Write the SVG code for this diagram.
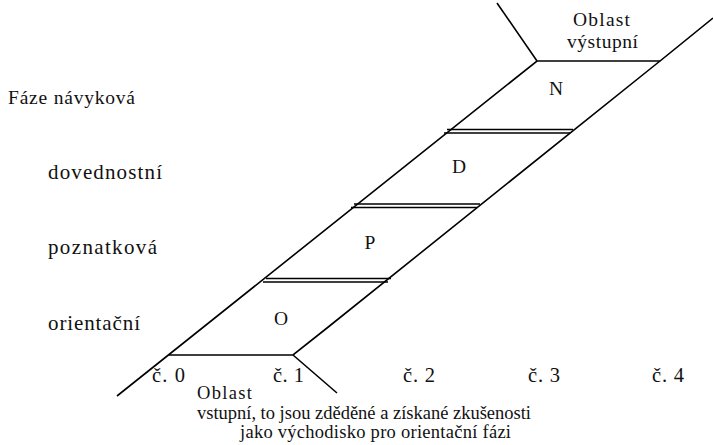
<svg xmlns="http://www.w3.org/2000/svg" width="713" height="445" viewBox="0 0 713 445">
<style>
text{font-family:"Liberation Serif","Times New Roman",serif;font-size:19.5px;fill:#111}
.sm{font-size:18.5px}
.lg{font-size:21px}
.ax{font-size:20.5px}
.ln{stroke:#000;stroke-width:1.6;fill:none}
.db{stroke:#000;stroke-width:1.4;fill:none}
</style>
<rect width="713" height="445" fill="#fff"/>
<g id="connectors">
<path class="ln" d="M117,396 L537,61 L660,61 L713,18"/>
<path class="ln" d="M497,3 L537,61"/>
<path class="ln" d="M169,355 L293,355 L327,328 L660,61"/>
<path class="ln" d="M293,355 L337,393"/>
</g>
<g id="band-N"><text x="556" y="95" text-anchor="middle">N</text></g>
<g id="sep1"><path class="db" d="M447,129.5 L573,129.5 M444,133 L570,133"/></g>
<g id="band-D"><text x="459" y="173" text-anchor="middle">D</text></g>
<g id="sep2"><path class="db" d="M354,204 L480,204 M351,207.5 L477,207.5"/></g>
<g id="band-P"><text x="370" y="249" text-anchor="middle">P</text></g>
<g id="sep3"><path class="db" d="M266,278.5 L391,278.5 M263,282 L388,282"/></g>
<g id="band-O"><text x="281" y="325" text-anchor="middle">O</text></g>
<g id="labels-left">
<text x="8" y="104" textLength="127" lengthAdjust="spacing">Fáze návyková</text>
<text class="lg" x="48" y="179" textLength="114" lengthAdjust="spacing">dovednostní</text>
<text class="lg" x="48" y="254" textLength="109" lengthAdjust="spacing">poznatková</text>
<text class="lg" x="48" y="330" textLength="92" lengthAdjust="spacing">orientační</text>
</g>
<g id="labels-axis">
<text class="ax" x="152" y="382" textLength="33" lengthAdjust="spacing">č. 0</text>
<text class="ax" x="273" y="382" textLength="31" lengthAdjust="spacing">č. 1</text>
<text class="ax" x="403" y="382" textLength="32" lengthAdjust="spacing">č. 2</text>
<text class="ax" x="528" y="382" textLength="32" lengthAdjust="spacing">č. 3</text>
<text class="ax" x="652" y="382" textLength="32" lengthAdjust="spacing">č. 4</text>
</g>
<g id="out-area">
<text x="573" y="26" textLength="57" lengthAdjust="spacing">Oblast</text>
<text x="567" y="48" textLength="71" lengthAdjust="spacing">výstupní</text>
</g>
<g id="in-area">
<text class="sm" x="197" y="399" textLength="55" lengthAdjust="spacing">Oblast</text>
<text class="sm" x="197" y="419" textLength="334" lengthAdjust="spacing">vstupní, to jsou zděděné a získané zkušenosti</text>
<text class="sm" x="240" y="438" textLength="271" lengthAdjust="spacing">jako východisko pro orientační fázi</text>
</g>
</svg>
